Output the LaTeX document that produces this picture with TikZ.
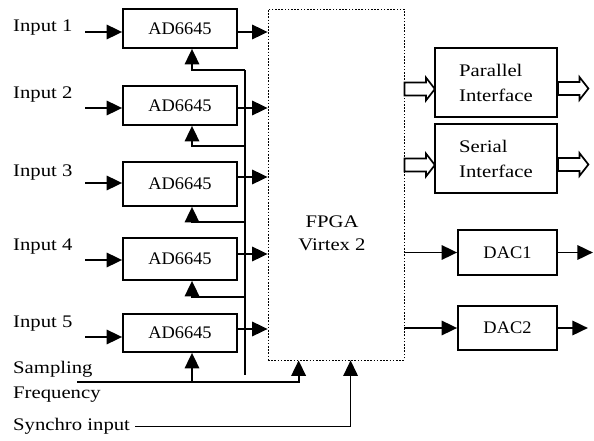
\documentclass[tikz,border=0pt]{standalone}
\usepackage{fontspec}
\setmainfont{Liberation Serif}[FakeStretch=1.04]
\newfontfamily\widefont{Liberation Serif}[FakeStretch=1.17]
\usetikzlibrary{arrows.meta,calc}
\tikzset{
  hollow/.pic={\draw[line width=1.7pt,fill=white,line join=miter]
    (0,-6.5) -- (21.5,-6.5) -- (21.5,-11.5) -- (30.5,0) -- (21.5,11.5) -- (21.5,6.5) -- (0,6.5) -- cycle;}
}
\begin{document}
\begin{tikzpicture}[x=1pt,y=-1pt,
  font=\fontsize{17.7}{24}\selectfont,
  adbox/.style={draw,line width=1.8pt,minimum width=114pt,inner sep=0pt},
  ifbox/.style={draw,line width=1.8pt,minimum width=122pt,minimum height=69pt,inner sep=0pt,align=left,font=\fontsize{17.7}{25}\selectfont\widefont},
  dacbox/.style={draw,line width=1.8pt,minimum width=99pt,inner sep=0pt},
  fpgabox/.style={draw,line width=0.8pt,dash pattern=on 1.6pt off 1.6pt,minimum width=136pt,minimum height=351pt,inner sep=0pt},
  arr/.style={line width=1.8pt,-{Triangle[length=15.5pt,width=14.5pt]}},
  wire/.style={line width=1.8pt},
  lbl/.style={anchor=base west,inner sep=0pt,font=\fontsize{17.7}{25}\selectfont\widefont},
]
\useasboundingbox (0,0) rectangle (594,441);

% ADC boxes
\node[adbox,minimum height=39pt] (ad1) at (180,28.5) {AD6645};
\node[adbox,minimum height=39pt] (ad2) at (180,105.5) {AD6645};
\node[adbox,minimum height=44pt] (ad3) at (180,184) {AD6645};
\node[adbox,minimum height=42pt] (ad4) at (180,259) {AD6645};
\node[adbox,minimum height=38pt] (ad5) at (180,333) {AD6645};

% FPGA
\node[fpgabox] (fpga) at (336,184.5) {};
\node[align=center,inner sep=0pt,font=\fontsize{17.7}{23.4}\selectfont\widefont] (fpgatxt) at (332,233) {FPGA\\Virtex 2};

% interfaces
\node[ifbox] (par) at (496,82.5) {Parallel\\Interface};
\node[ifbox] (ser) at (496,158.5) {Serial\\Interface};

% DACs
\node[dacbox,minimum height=45pt] (dac1) at (507.5,252.5) {DAC1};
\node[dacbox,minimum height=44pt] (dac2) at (507.5,328) {DAC2};

% input labels
\node[lbl] (l1) at (13,31.7) {Input 1};
\node[lbl] (l2) at (13,99) {Input 2};
\node[lbl] (l3) at (13,176) {Input 3};
\node[lbl] (l4) at (13,250.7) {Input 4};
\node[lbl] (l5) at (13,327.3) {Input 5};
\node[inner sep=0pt,anchor=west,align=left,font=\fontsize{17.7}{25}\selectfont\widefont] (samp) at (13,381.7) {Sampling\\Frequency};
\node[lbl] (syn) at (13,430) {Synchro input};

% input arrows
\coordinate (i1) at (85,32);
\coordinate (i2) at (85,108);
\coordinate (i3) at (85,183);
\coordinate (i4) at (85,260);
\coordinate (i5) at (85,337);
\foreach \k in {1,...,5}{\draw[arr] (i\k) -- (i\k -| ad\k.west);}

% output arrows to FPGA
\draw[arr] ($(ad1.east)+(0,3.5)$) coordinate (o1) -- (o1 -| fpga.west);
\draw[arr] ($(ad2.east)+(0,2.5)$) coordinate (o2) -- (o2 -| fpga.west);
\draw[arr] ($(ad3.east)+(0,-7)$) coordinate (o3) -- (o3 -| fpga.west);
\draw[arr] ($(ad4.east)+(0,-5)$) coordinate (o4) -- (o4 -| fpga.west);
\draw[arr] ($(ad5.east)+(0,-4)$) coordinate (o5) -- (o5 -| fpga.west);

% clock bus
\coordinate (b1) at (245,70);
\coordinate (b2) at (245,146);
\coordinate (b3) at (245,222);
\coordinate (b4) at (245,297);
\coordinate (bend) at (245,375);
\draw[wire] (b1) -- (bend);
\foreach \k in {1,...,4}{
  \coordinate (k\k) at ($(ad\k.south)+(12,0)$);
  \draw[arr] (b\k) -| (k\k);
}
\coordinate (k5) at ($(ad5.south)+(12,0)$);

% sampling frequency
\coordinate (sf) at (77,382);
\coordinate (fs1) at ($(fpga.south west)+(31,0)$);
\draw[arr] (sf) -| (fs1);
\draw[arr] (k5 |- sf) -- (k5);

% synchro
\coordinate (fs2) at ($(fpga.south west)+(83,0)$);
\draw[arr,line width=1.4pt] ($(syn.east)+(5,0.8)$) -| (fs2);

% interface arrows
\pic at ($(fpga.east |- par.west)+(0,6.5)$) {hollow};
\pic at ($(par.east)+(0,6)$) {hollow};
\pic at ($(fpga.east |- ser.west)+(0,6.5)$) {hollow};
\pic at ($(ser.east)+(0,6)$) {hollow};

% DAC arrows
\draw[arr] (fpga.east |- dac1.west) -- (dac1.west);
\coordinate (d1) at ($(dac1.east)+(35,0)$);
\draw[arr] (dac1.east) -- (d1);
\draw[arr] (fpga.east |- dac2.west) -- (dac2.west);
\coordinate (d2) at ($(dac2.east)+(30,0)$);
\draw[arr] (dac2.east) -- (d2);
\end{tikzpicture}
\end{document}
